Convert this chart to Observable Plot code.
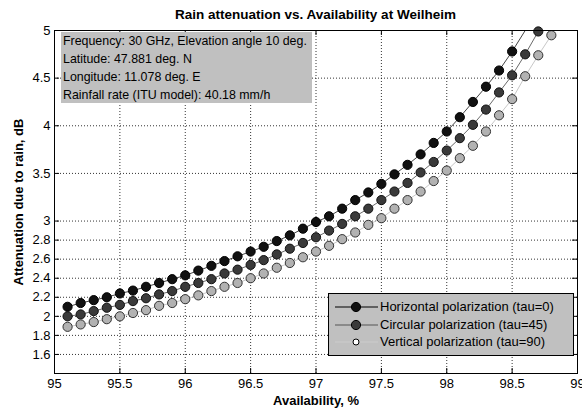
<!DOCTYPE html>
<html><head><meta charset="utf-8">
<script src="https://cdn.jsdelivr.net/npm/d3@7"></script>
<script src="https://cdn.jsdelivr.net/npm/@observablehq/plot@0.6"></script>
<style>
body{margin:0;background:#fff;font-family:"Liberation Sans",Arial,sans-serif;}
#wrap{position:relative;width:582px;height:412px;}
#title{height:24px;line-height:30px;text-align:center;font-weight:bold;font-size:13.5px;padding-left:49px;box-sizing:border-box;color:#000;}
#gridlayer{position:absolute;left:0;top:24px;z-index:0;}
#chart{position:absolute;left:0;top:24px;z-index:1;}
.box{position:absolute;background:#c0c0c0;font-size:12.4px;color:#000;z-index:2;}
#info{left:61px;top:32px;width:251px;height:71px;}
#info div{position:absolute;left:2px;white-space:nowrap;}
#legend{left:328px;top:293px;width:246px;height:63px;border:1px solid #000;box-sizing:border-box;font-size:13px;}
#legend .row{position:absolute;left:5px;height:16px;white-space:nowrap;}
#legend svg{position:absolute;left:0;top:0;}
#legend span{position:absolute;left:46px;top:0;line-height:16px;}
</style>
</head><body>
<div id="wrap">
<div id="title">Rain attenuation vs. Availability at Weilheim</div>
<div id="gridlayer"></div>
<div id="chart"></div>
<div id="info" class="box"></div>
<div id="legend" class="box"></div>
</div>
<script>
const availability = [95.1,95.2,95.3,95.4,95.5,95.6,95.7,95.8,95.9,96.0,96.1,96.2,96.3,96.4,96.5,96.6,96.7,96.8,96.9,97.0,97.1,97.2,97.3,97.4,97.5,97.6,97.7,97.8,97.9,98.0,98.1,98.2,98.3,98.4,98.5,98.6,98.7,98.8];
const horizontal = [2.10,2.14,2.17,2.20,2.24,2.27,2.31,2.35,2.39,2.43,2.48,2.53,2.58,2.63,2.68,2.73,2.79,2.85,2.92,2.99,3.05,3.13,3.22,3.30,3.39,3.49,3.59,3.70,3.82,3.94,4.09,4.25,4.41,4.58,4.78,5.22];
const circular = [2.00,2.02,2.055,2.09,2.12,2.16,2.19,2.23,2.265,2.31,2.35,2.39,2.45,2.49,2.54,2.59,2.65,2.71,2.77,2.83,2.90,2.97,3.05,3.13,3.22,3.31,3.40,3.51,3.62,3.74,3.87,4.01,4.17,4.35,4.53,4.75,4.99];
const vertical = [1.89,1.915,1.94,1.97,2.00,2.035,2.065,2.11,2.14,2.18,2.22,2.265,2.31,2.35,2.40,2.45,2.51,2.56,2.62,2.68,2.74,2.81,2.88,2.96,3.03,3.13,3.22,3.31,3.42,3.53,3.66,3.79,3.94,4.11,4.28,4.52,4.74,4.95];
const seriesNames = ["Horizontal polarization (tau=0)","Circular polarization (tau=45)","Vertical polarization (tau=90)"];
const xTicks = [95,95.5,96,96.5,97,97.5,98,98.5,99];
const yTicks = [1.6,1.8,2,2.2,2.4,2.6,2.8,3,3.5,4,4.5,5];
const xDomain = [95, 99];
const yDomain = [1.4, 5];
const infoLines = ["Frequency: 30 GHz, Elevation angle 10 deg.","Latitude: 47.881 deg. N","Longitude: 11.078 deg. E","Rainfall rate (ITU model): 40.18 mm/h"];

const lineColors = ["#444","#6a6a6a","#c8c8c8"];
const dotFills = ["#111","#3a3a3a","#b2b2b2"];
const dotStrokes = ["#000","#111","#333"];
const values = [horizontal, circular, vertical];

const W = 582, H = 388, mT = 6, mB = 39, mL = 54, mR = 5, tick = 5;
const innerW = W - mL - mR, innerH = H - mT - mB;
const fmt = d => String(d);
const dims = {width: W, height: H, marginTop: mT, marginBottom: mB, marginLeft: mL, marginRight: mR};

// Layer 1: dotted grid and inward ticks (behind the data)
const gridStyle = {stroke:"#000", strokeOpacity:0.8, strokeDasharray:"1,2"};
const tickStyle = {stroke:"#000"};
const gridPlot = Plot.plot({
  ...dims,
  style: {background:"white"},
  x: {domain: xDomain, axis: null},
  y: {domain: yDomain, axis: null},
  marks: [
    Plot.ruleX(xTicks, {x: d => d, ...gridStyle}),
    Plot.ruleY(yTicks, {y: d => d, ...gridStyle}),
    Plot.ruleX(xTicks, {x: d => d, insetTop: innerH - tick, ...tickStyle}),
    Plot.ruleX(xTicks, {x: d => d, insetBottom: innerH - tick, ...tickStyle}),
    Plot.ruleY(yTicks, {y: d => d, insetRight: innerW - tick, ...tickStyle}),
    Plot.ruleY(yTicks, {y: d => d, insetLeft: innerW - tick, ...tickStyle}),
    Plot.frame({stroke:"#000"})
  ]
});
document.getElementById("gridlayer").appendChild(gridPlot);

// Layer 2: data, frame and axis labels (transparent background)
const rows = [];
values.forEach((arr, s) => arr.forEach((v, i) => rows.push({x: availability[i], y: v, s: seriesNames[s]})));
const marks = [];
seriesNames.forEach((name, s) => {
  const d = rows.filter(r => r.s === name);
  marks.push(Plot.line(d, {x:"x", y:"y", stroke: lineColors[s], strokeWidth:1}));
});
seriesNames.forEach((name, s) => {
  const d = rows.filter(r => r.s === name && r.y <= yDomain[1]);
  marks.push(Plot.dot(d, {x:"x", y:"y", r:4.6, fill: dotFills[s], stroke: dotStrokes[s], strokeWidth:1}));
});
marks.push(Plot.frame({stroke:"#000"}));

const plot = Plot.plot({
  ...dims,
  style: {fontFamily:'"Liberation Sans", Arial, sans-serif', fontSize:"13px", color:"#000", background:"transparent", overflow:"visible"},
  x: {domain: xDomain, ticks: xTicks, tickFormat: fmt, tickSize: 0, tickPadding: 5, label: "Availability, %", labelAnchor: "center", labelArrow: "none", labelOffset: 31},
  y: {domain: yDomain, clamp: true, ticks: yTicks, tickFormat: fmt, tickSize: 0, tickPadding: 4, label: "Attenuation due to rain, dB", labelAnchor: "center", labelArrow: "none", labelOffset: 41},
  marks
});
document.getElementById("chart").appendChild(plot);
plot.querySelectorAll("g[aria-label='x-axis label'] text, g[aria-label='y-axis label'] text").forEach(t => {t.style.fontWeight="bold";});

const info = document.getElementById("info");
infoLines.forEach((t,i) => {
  const d = document.createElement("div");
  d.textContent = t;
  d.style.top = (2 + i*18) + "px";
  info.appendChild(d);
});

const legend = document.getElementById("legend");
const legendR = [4.6,4.6,3];
const legendFill = ["#111","#3a3a3a","#fff"];
const legendLine = ["#000","#555","#ccc"];
seriesNames.forEach((name,i) => {
  const row = document.createElement("div");
  row.className = "row";
  row.style.top = (5 + i*17.5) + "px";
  row.innerHTML = `<svg width="46" height="16"><line x1="1" x2="44" y1="8" y2="8" stroke="${legendLine[i]}" stroke-width="1"/><circle cx="22" cy="8" r="${legendR[i]}" fill="${legendFill[i]}" stroke="#000"/></svg><span></span>`;
  row.querySelector("span").textContent = name;
  legend.appendChild(row);
});
</script>
</body></html>
